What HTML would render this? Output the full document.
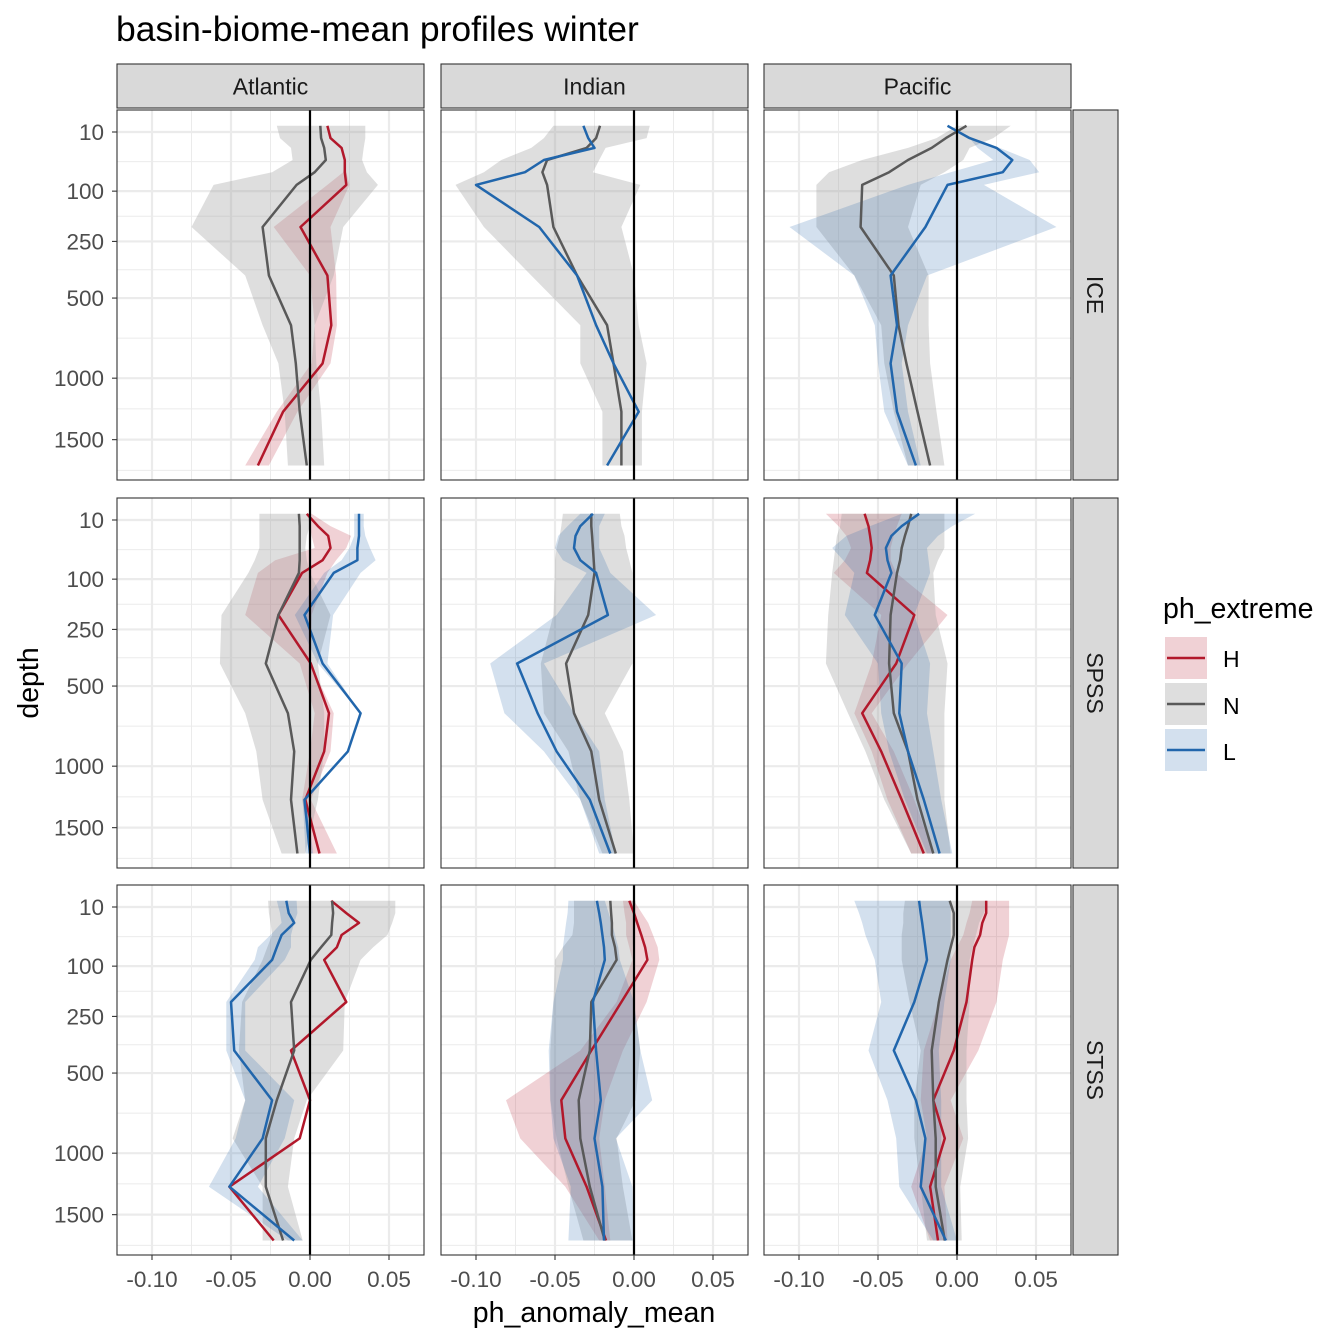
<!DOCTYPE html>
<html><head><meta charset="utf-8"><style>
body{margin:0;background:#fff}
svg{display:block;font-family:"Liberation Sans",sans-serif}
</style></head><body>
<svg id="chart" width="1344" height="1344" viewBox="0 0 1344 1344" xmlns="http://www.w3.org/2000/svg">
<text x="116" y="41" font-size="35.5" fill="#000">basin-biome-mean profiles winter</text>
<text transform="translate(38,683) rotate(-90)" text-anchor="middle" font-size="28.5" fill="#000">depth</text>
<text x="594" y="1322" text-anchor="middle" font-size="28.5" fill="#000">ph_anomaly_mean</text>
<g id="panels"></g>
<g>
<text x="1163" y="618" font-size="28.5" fill="#000">ph_extreme</text>
<g>
<rect x="1165" y="637" width="42" height="42" fill="#B2182B" fill-opacity="0.2"/>
<line x1="1167" x2="1205" y1="658" y2="658" stroke="#B2182B" stroke-width="2.5"/>
<text x="1223" y="667" font-size="23" fill="#000">H</text></g>
<g>
<rect x="1165" y="683" width="42" height="42" fill="#a0a0a0" fill-opacity="0.35"/>
<line x1="1167" x2="1205" y1="704" y2="704" stroke="#595959" stroke-width="2.5"/>
<text x="1223" y="714" font-size="23" fill="#000">N</text></g>
<g>
<rect x="1165" y="729" width="42" height="42" fill="#2166AC" fill-opacity="0.2"/>
<line x1="1167" x2="1205" y1="750" y2="750" stroke="#2166AC" stroke-width="2.5"/>
<text x="1223" y="760" font-size="23" fill="#000">L</text></g>
</g>
</svg>
<script>
// depth levels (m) and tick labels
const depths = [6, 15, 25, 41, 61, 86, 200, 390, 650, 895, 1260, 1740];
const yTicks = [10, 100, 250, 500, 1000, 1500];
const xTicks = [-0.10, -0.05, 0.00, 0.05];
const xTickLabels = ["-0.10", "-0.05", "0.00", "0.05"];
const basins = ["Atlantic", "Indian", "Pacific"];
const biomes = ["ICE", "SPSS", "STSS"];
// values in units of 1e-3 (mean, lo, hi)
// ICE
const ICE_ATL_N = [6.5,7,9,10,3,-8.5,-30,-26,-12,-9,-6.5,-2];
const ICE_ATL_N_LO = [-21,-19,-12,-11,-24,-61,-75,-41,-30,-20,-16,-14];
const ICE_ATL_N_HI = [35,35,34,33,36,43,21,15,3,4,7,9];
const ICE_ATL_H = [11,13,20,22,22,23,-6,11,13.5,8,-17,-33];
const ICE_ATL_H_LO = [11,13,20,22,21,11,-23,0,3,1,-21,-41];
const ICE_ATL_H_HI = [11,13,20,22,23,25,13,16.5,17,13,-8,-26];
const ICE_IND_N = [-21.5,-24,-30,-55,-58,-55,-51,-36,-17,-13,-8,-8];
const ICE_IND_N_LO = [-51,-57,-65,-84,-95,-113,-95,-65,-34,-34,-20,-20];
const ICE_IND_N_HI = [10,8,-18,-22,-26,4,-8,0,3,8,5,5];
const ICE_IND_L = [-32,-29,-25,-57,-69,-100,-60,-36,-24,-13,3,-17];
const ICE_PAC_N = [6,-7,-16,-31,-43,-60,-61,-40,-37,-32,-25,-17];
const ICE_PAC_N_LO = [0,-13,-31,-60,-81,-89,-89,-65,-48,-46,-40,-31];
const ICE_PAC_N_HI = [34,23,8,4,-8,-23,-31,-18,-18,-17,-13,-8];
const ICE_PAC_L = [-6,8,25,35,29,-6,-20,-42,-38,-42,-38,-26];
const ICE_PAC_L_LO = [-6,8,13,23,-4,-31,-106,-65,-52,-50,-46,-31];
const ICE_PAC_L_HI = [-6,8,27,46,52,17,63,-19,-31,-35,-31,-23];
// SPSS
const SPSS_ATL_N = [-7,-6.5,-6.5,-6.5,-6.5,-7,-20,-28,-14,-10,-12,-8];
const SPSS_ATL_N_LO = [-32,-32,-32,-32,-35,-39,-56,-57,-41,-34,-30,-18];
const SPSS_ATL_N_HI = [0,0,-2,-3,-2,0,13,5,9,9,5,-3];
const SPSS_ATL_H = [-2,5,11.5,13,8,-5,-20,0.5,12,9,-3,6];
const SPSS_ATL_H_LO = [-2,0,1,3,-22,-33,-41,-6.5,3,0,-5,1];
const SPSS_ATL_H_HI = [1,13,26,23,16.5,11,1,0.5,15,13,0.5,17];
const SPSS_ATL_L = [31,31,31,30,30,15,-3.5,8,32,24,-3.5,0];
const SPSS_ATL_L_LO = [28,28,28,25,20,9,-9.6,5,32,24,-4.6,-2.7];
const SPSS_ATL_L_HI = [34,34,35,38,41.5,32,14.6,11,32,24,-2,2];
const SPSS_IND_N = [-27,-27,-26.5,-26,-25.5,-25,-29,-43,-38,-27,-22,-11.5];
const SPSS_IND_N_LO = [-45,-46,-47,-49,-50,-50,-51,-59,-57,-41.5,-34,-20];
const SPSS_IND_N_HI = [-9,-8,-6,-5,-3,-1,-1,-1,-18.5,-7,-3,0];
const SPSS_IND_L = [-26,-34,-37,-38,-34,-24,-16.5,-74,-61,-49,-28,-15];
const SPSS_IND_L_LO = [-34,-42,-48,-50,-45,-30,-49,-91,-82,-57,-34,-22];
const SPSS_IND_L_HI = [-18.5,-22,-22,-22,-18.5,-15,14,-57,-38,-22,-18.5,-11.5];
const SPSS_PAC_N = [-29,-31,-33,-35,-36,-38,-42,-43,-40,-31,-25,-15];
const SPSS_PAC_N_LO = [-73,-74,-76,-77,-78,-79,-81.5,-83,-69,-58,-46,-29];
const SPSS_PAC_N_HI = [-8,-8,-8,-8,-12,-15,-13.5,-6,-8,-8,-8,-4];
const SPSS_PAC_H = [-58.5,-56,-55,-54,-55,-57,-27,-38.5,-60,-48,-35,-21];
const SPSS_PAC_H_LO = [-83,-75,-70,-67,-71,-78,-48,-54,-65,-54,-44,-29];
const SPSS_PAC_H_HI = [-35,-38,-40,-42,-42,-38.5,-6,-31,-54,-40,-27,-15];
const SPSS_PAC_L = [-24,-35,-41.5,-45,-44,-41.5,-52,-35,-36.5,-31,-21,-11];
const SPSS_PAC_L_LO = [-35,-55,-70,-79,-72,-65,-71,-50,-48,-43,-33,-19];
const SPSS_PAC_L_HI = [11.5,-3,-12,-19,-18,-17,-27,-17,-19,-15,-10,-3];
// STSS
const STSS_ATL_N = [14,14.6,14,13.5,7,0.5,-12,-10,-21,-28,-28,-17];
const STSS_ATL_N_LO = [-26.5,-26,-25,-24,-27,-30,-43,-45,-41,-49,-30,-30];
const STSS_ATL_N_HI = [54,54,52,49,40,32,22,21,-2,-10,-14,-4.6];
const STSS_ATL_H = [13.5,23,31,20,17,9,23,-12,0,-6.5,-51,-23];
const STSS_ATL_L = [-15,-13.5,-10,-18,-21,-24,-50,-48,-24,-30,-51,-10];
const STSS_ATL_L_LO = [-21,-19,-18,-25,-33,-35,-53,-53,-41,-47,-64,-14];
const STSS_ATL_L_HI = [-8.5,-8,-10,-12,-12,-16,-41,-41,-10,-16,-33,-4.6];
const STSS_IND_N = [-15,-14.5,-14,-14,-12,-11,-27,-28,-35,-34,-28,-18.5];
const STSS_IND_N_LO = [-38,-38,-38,-39,-45,-50,-51,-53,-53,-49,-41.5,-32];
const STSS_IND_N_HI = [1,1,0,0,-1,-1,0,4,1,-11,-7,-1];
const STSS_IND_H = [-3,0,2,4.6,7,8.5,-8,-27,-46,-43.5,-30,-17.7];
const STSS_IND_H_LO = [-7,-6,-5,-5,-3,-1,-11,-34,-81,-72,-43.5,-22];
const STSS_IND_H_HI = [0,5,9,12,15,16,8,-7,-18.5,-22,-18.5,-15];
const STSS_IND_L = [-23.5,-22,-21,-20,-19,-18.5,-26,-24,-21,-25,-20,-19];
const STSS_IND_L_LO = [-41.5,-42,-43,-44,-45,-45,-51,-54,-53,-51,-40,-41.5];
const STSS_IND_L_HI = [-18.5,-16,-14,-12,-10,-9,0,4,11.5,-11.5,-1,0];
const STSS_PAC_N = [-4.6,-2,-2,-2,-4,-6,-11.5,-16,-15,-13.5,-13.5,-7.7];
const STSS_PAC_N_LO = [-33,-34,-34,-35,-35,-35,-30,-23,-27,-27,-23,-19];
const STSS_PAC_N_HI = [19,17,14,12,10,8,8,6,6,7,2,3];
const STSS_PAC_H = [18.5,18.5,16,14.6,11,9.6,6,-2,-15,-7.7,-17,-12];
const STSS_PAC_H_LO = [9.6,8,6,4,0,-4,-11.5,-21,-23,-19,-29,-17];
const STSS_PAC_H_HI = [33,33,33,33,31,29,25,13.5,-4,4,-8,-6];
const STSS_PAC_L = [-24,-23,-22,-21,-20,-19,-27,-40,-26,-20,-23,-7];
const STSS_PAC_L_LO = [-65,-62,-60,-58,-55,-52,-48,-56,-44,-38.5,-36.5,-15];
const STSS_PAC_L_HI = [-4,-4,-4,-4,-4,-4,-8,-11.5,-10,-10,-10,0];

const panelData = {
 "ICE|Atlantic": {H:[ICE_ATL_H,ICE_ATL_H_LO,ICE_ATL_H_HI], N:[ICE_ATL_N,ICE_ATL_N_LO,ICE_ATL_N_HI]},
 "ICE|Indian": {N:[ICE_IND_N,ICE_IND_N_LO,ICE_IND_N_HI], L:[ICE_IND_L,ICE_IND_L,ICE_IND_L]},
 "ICE|Pacific": {N:[ICE_PAC_N,ICE_PAC_N_LO,ICE_PAC_N_HI], L:[ICE_PAC_L,ICE_PAC_L_LO,ICE_PAC_L_HI]},
 "SPSS|Atlantic": {H:[SPSS_ATL_H,SPSS_ATL_H_LO,SPSS_ATL_H_HI], N:[SPSS_ATL_N,SPSS_ATL_N_LO,SPSS_ATL_N_HI], L:[SPSS_ATL_L,SPSS_ATL_L_LO,SPSS_ATL_L_HI]},
 "SPSS|Indian": {N:[SPSS_IND_N,SPSS_IND_N_LO,SPSS_IND_N_HI], L:[SPSS_IND_L,SPSS_IND_L_LO,SPSS_IND_L_HI]},
 "SPSS|Pacific": {H:[SPSS_PAC_H,SPSS_PAC_H_LO,SPSS_PAC_H_HI], N:[SPSS_PAC_N,SPSS_PAC_N_LO,SPSS_PAC_N_HI], L:[SPSS_PAC_L,SPSS_PAC_L_LO,SPSS_PAC_L_HI]},
 "STSS|Atlantic": {H:[STSS_ATL_H,STSS_ATL_H,STSS_ATL_H], N:[STSS_ATL_N,STSS_ATL_N_LO,STSS_ATL_N_HI], L:[STSS_ATL_L,STSS_ATL_L_LO,STSS_ATL_L_HI]},
 "STSS|Indian": {H:[STSS_IND_H,STSS_IND_H_LO,STSS_IND_H_HI], N:[STSS_IND_N,STSS_IND_N_LO,STSS_IND_N_HI], L:[STSS_IND_L,STSS_IND_L_LO,STSS_IND_L_HI]},
 "STSS|Pacific": {H:[STSS_PAC_H,STSS_PAC_H_LO,STSS_PAC_H_HI], N:[STSS_PAC_N,STSS_PAC_N_LO,STSS_PAC_N_HI], L:[STSS_PAC_L,STSS_PAC_L_LO,STSS_PAC_L_HI]}
};
const colors = {H:"#B2182B", N:"#595959", L:"#2166AC"};
const fills = {H:["#B2182B",0.2], N:["#a0a0a0",0.35], L:["#2166AC",0.2]};

const NS = "http://www.w3.org/2000/svg";
const root = document.getElementById("panels");
function el(tag, attrs, parent){const e=document.createElementNS(NS,tag);for(const k in attrs)e.setAttribute(k,attrs[k]);(parent||root).appendChild(e);return e;}
const colX = [117, 441, 764], panelW = 307;
const rowY = [110, 498, 885], panelH = 370;
// axis functions
function xScale(col, v){ return colX[col] + 193 + v * 1580; }
function yScale(row, d){ return rowY[row] + 22 + (Math.sqrt(d) - Math.sqrt(10)) * 8.65; }

biomes.forEach((biome, r) => {
  basins.forEach((basin, c) => {
    const x0 = colX[c], y0 = rowY[r];
    const g = el("g", {});
    
    
    el("rect", {x:x0, y:y0, width:panelW, height:panelH, fill:"#fff"}, g);
    for (let i=0;i<yTicks.length;i++){
      const a = Math.sqrt(yTicks[i]), b = i<yTicks.length-1 ? Math.sqrt(yTicks[i+1]) : a + (a-Math.sqrt(yTicks[i-1]));
      const ym = yScale(r, ((a+b)/2)**2);
      if (ym < y0+panelH) el("line",{x1:x0,x2:x0+panelW,y1:ym,y2:ym,stroke:"#ebebeb","stroke-width":1},g);
    }
    [-0.125,-0.075,-0.025,0.025,0.075].forEach(v=>{const x=xScale(c,v); if(x>x0&&x<x0+panelW) el("line",{x1:x,x2:x,y1:y0,y2:y0+panelH,stroke:"#ebebeb","stroke-width":1},g);});
    yTicks.forEach(d=>{const y=yScale(r,d); el("line",{x1:x0,x2:x0+panelW,y1:y,y2:y,stroke:"#ebebeb","stroke-width":2.2},g);});
    xTicks.forEach(v=>{const x=xScale(c,v); el("line",{x1:x,x2:x,y1:y0,y2:y0+panelH,stroke:"#ebebeb","stroke-width":2.2},g);});
    const pd = panelData[biome + "|" + basin];
    const order = ["H","N","L"].filter(k => pd[k]);
    order.forEach(k => {
      const [m, lo, hi] = pd[k];
      let pts = [];
      for (let i=0;i<depths.length;i++) if (lo[i]!=null) pts.push(xScale(c, lo[i]/1000).toFixed(1)+","+yScale(r, depths[i]).toFixed(1));
      for (let i=depths.length-1;i>=0;i--) if (hi[i]!=null) pts.push(xScale(c, hi[i]/1000).toFixed(1)+","+yScale(r, depths[i]).toFixed(1));
      const p = el("polygon", {points: pts.join(" "), fill: fills[k][0], "fill-opacity": fills[k][1], stroke:"none"}, g);
      
      
    });
    order.forEach(k => {
      const m = pd[k][0];
      let pts = [];
      for (let i=0;i<depths.length;i++) if (m[i]!=null) pts.push(xScale(c, m[i]/1000).toFixed(1)+","+yScale(r, depths[i]).toFixed(1));
      const l = el("polyline", {points: pts.join(" "), fill:"none", stroke: colors[k], "stroke-width": 2.5, "stroke-linejoin":"round"}, g);
      
      
    });
    const z = xScale(c, 0);
    const zl = el("line", {x1:z, x2:z, y1:y0, y2:y0+panelH, stroke:"#000", "stroke-width":2.2}, g);
    
    
    el("rect", {x:x0, y:y0, width:panelW, height:panelH, fill:"none", stroke:"#333", "stroke-width":1.1}, g);
    if (c === 0) {
      yTicks.forEach(d => {
        const y = yScale(r, d);
        el("line",{x1:x0-5,x2:x0,y1:y,y2:y,stroke:"#333","stroke-width":1.1},g);
        const t = el("text",{x:x0-13,y:y+8,"text-anchor":"end","font-size":22.5,fill:"#4d4d4d"},g);
        
        
        t.textContent = d;
      });
    }
    if (r === 2) {
      xTicks.forEach((v,i) => {
        const x = xScale(c, v);
        el("line",{x1:x,x2:x,y1:y0+panelH,y2:y0+panelH+5,stroke:"#333","stroke-width":1.1},g);
        const t = el("text",{x:x,y:y0+panelH+32,"text-anchor":"middle","font-size":22.5,fill:"#4d4d4d"},g);
        
        
        t.textContent = xTickLabels[i];
      });
    }
  });
});
basins.forEach((b, c) => {
  const s = el("g", {});
  
  
  el("rect",{x:colX[c],y:64,width:panelW,height:44,fill:"#d9d9d9",stroke:"#333","stroke-width":1.1},s);
  const t = el("text",{x:colX[c]+panelW/2,y:94.5,"text-anchor":"middle","font-size":23,fill:"#1a1a1a"},s);
  t.textContent = b;
});
biomes.forEach((b, r) => {
  const s = el("g", {});
  
  
  el("rect",{x:1073,y:rowY[r],width:45,height:panelH,fill:"#d9d9d9",stroke:"#333","stroke-width":1.1},s);
  const cy = rowY[r]+panelH/2;
  const t = el("text",{x:1087,y:cy,"text-anchor":"middle","font-size":23,fill:"#1a1a1a",transform:"rotate(90 1087 "+cy+")"},s);
  t.textContent = b;
});
</script>
</body></html>
